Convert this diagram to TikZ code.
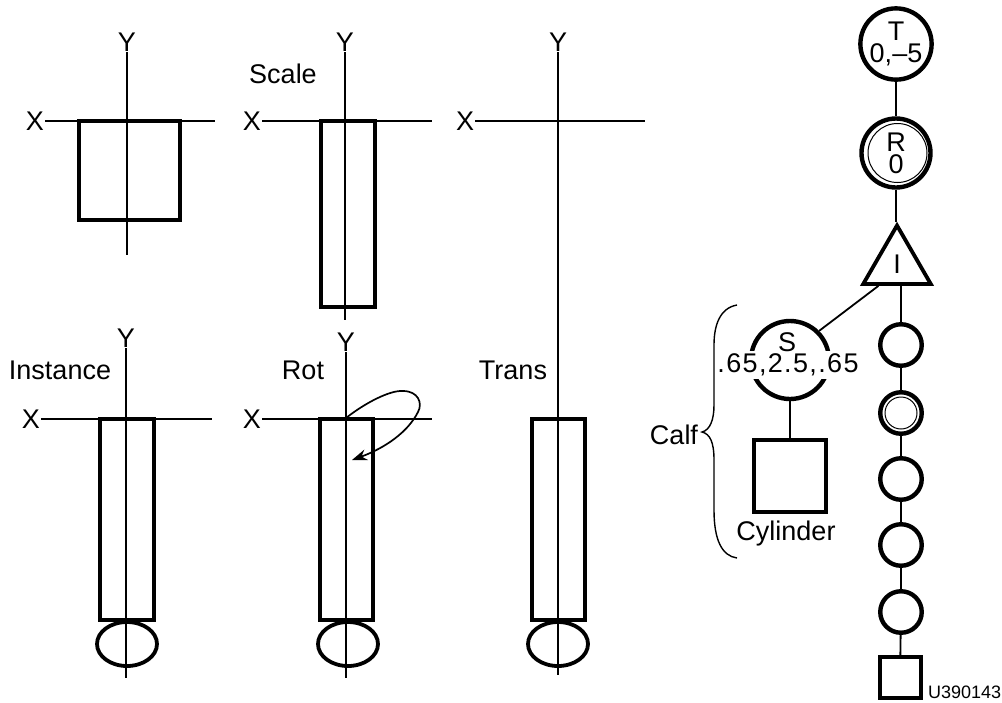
\documentclass[tikz,border=0pt]{standalone}
\usepackage{fontspec}
\setmainfont{Liberation Sans}
\usetikzlibrary{arrows.meta,shapes.geometric}

\tikzset{
  lbl/.style={font=\fontsize{27}{22}\selectfont,inner sep=1pt,align=center},
  axis/.style={line width=1.7pt},
  body/.style={line width=3.8pt},
  link/.style={line width=1.8pt},
  opnode/.style={circle,draw,line width=4.4pt,inner sep=0pt,lbl},
  leaf/.style={rectangle,draw,line width=4pt,inner sep=0pt},
}

\begin{document}
\begin{tikzpicture}[x=1pt,y=-1pt]
\useasboundingbox (0,0) rectangle (1002,702);
% Axes of the six frames
\foreach \n/\xl/\xe/\xy/\yl/\yy/\ye in {a/35/215/121/127/42/255, b/252/432/121/345/42/320, c/465/645/121/558/42/675,
  d/31/212/419/126/338/678, e/252/432/419/346/342/678} {
  \node[lbl] (x\n) at (\xl,\xy) {X};
  \node[lbl] (y\n) at (\yl,\yy) {Y};
  \draw[axis] (x\n) -- (\xe,\xy);
  \draw[axis] (y\n) -- (\yl,\ye);
}
\node[lbl] (xf) at (465,121) {};
\draw[axis] (476,419) -- (476,419);
% Boxes
\draw[body] (79,121) rectangle (180,220);
\draw[body] (321,121) rectangle (375,307);
\draw[body] (100,419) rectangle (154,620);
\draw[body] (320,419) rectangle (373,620);
\draw[body] (532,419) rectangle (585,620);
% Feet
\foreach \x in {127,348,558} \draw[body] (\x,644) ellipse [x radius=30,y radius=22];
% Frame labels
\node[lbl] (scale) at (283,74) {Scale};
\node[lbl] (inst) at (60,370) {Instance};
\node[lbl] (rot) at (303,370) {Rot};
\node[lbl] (trans) at (513,370) {Trans};
% Rotation arrow
\draw[axis,-{Stealth[length=15pt,width=11pt]}] (346,418) .. controls (365,403) and (390,390) .. (403,391)
  .. controls (418,391) and (423,403) .. (418,412) .. controls (408,432) and (385,448) .. (352,460);
% Main chain
\node[opnode,minimum size=67.5pt] (nt) at (896,44) {T\\0,--5};
\node[opnode,minimum size=69pt] (nr) at (896,153) {R\\0};
\draw[line width=1pt] ([xshift=1.5pt]nr.center) circle (29.5);
\node[regular polygon,regular polygon sides=3,draw,line width=3.8pt,minimum size=78pt,inner sep=0pt,lbl] (ni) at (897,264.5) {I};
\draw[link] (nt) -- (nr);
\draw[link] (nr) -- (896,222);
% Calf branch
\node[opnode,minimum size=78pt] (ns) at (790,360) {};
\node[lbl,fill=white,inner sep=0pt,minimum height=28pt] (nsv) at (788,365) {\addfontfeature{LetterSpace=5}.65,2.5,.65};
\node[lbl] (nsl) at (787,342) {S};
\node[leaf,minimum size=72pt] (ncyl) at (790,476) {};
\node[lbl] (ncl) at (786,534) {Cylinder};
\draw[link] (ni.229) -- (ns.45);
\draw[link] (ns) -- (ncyl);
\node[lbl] (calf) at (674,435) {Calf};
\draw[link,line width=1.4pt] (737,305) .. controls (720,308) and (714,325) .. (714,345) -- (714,405)
  .. controls (714,420) and (710,430) .. (702,432) .. controls (710,434) and (714,442) .. (714,460) -- (714,510)
  .. controls (714,540) and (722,556) .. (737,558);
% Lower chain
\foreach \n/\y in {1/345,2/413,3/479,4/545,5/612} \node[opnode,minimum size=41.5pt] (c\n) at (901,\y) {};
\draw[line width=1pt] (c2.center) circle (16);
\node[leaf,minimum size=41pt] (nend) at (900,677.5) {};
\draw[link] (c1) -- (c1 |- ni.south);
\foreach \a/\b in {c1/c2,c2/c3,c3/c4,c4/c5,c5/nend} \draw[link] (\a) -- (\b);
\node[font=\fontsize{18}{18}\selectfont,inner sep=0pt,anchor=west] (code) at (928,692) {U390143};
\end{tikzpicture}
\end{document}
